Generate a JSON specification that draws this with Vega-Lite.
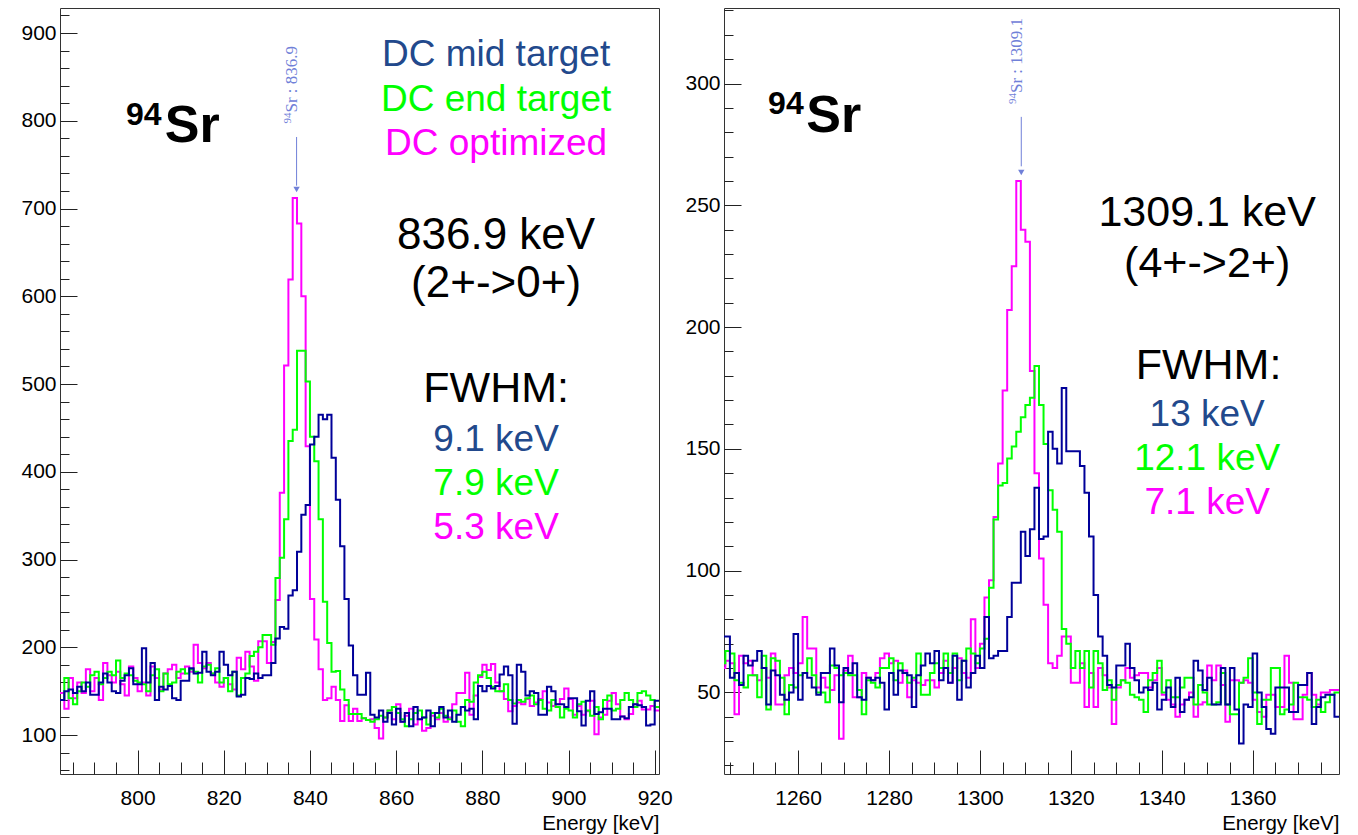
{
"$schema": "https://vega.github.io/schema/vega-lite/v6.json",
"padding": {"left": 20, "top": 7, "right": 20, "bottom": 1},
"background": "white",
"bounds": "flush",
"spacing": 65,
"resolve": {"scale": {"x": "independent", "y": "independent", "color": "independent"}},
"config": {
  "font": "Liberation Sans",
  "view": {"stroke": "#333333", "strokeWidth": 1},
  "axis": {"labelFont": "Liberation Sans", "labelFontSize": 21, "labelColor": "#000000", "titleFont": "Liberation Sans", "titleFontSize": 20.5, "titleFontWeight": "normal", "titleColor": "#000000", "domain": false, "grid": false, "tickColor": "#222222", "tickWidth": 1, "labelOverlap": false, "labelFlush": false, "labelBound": false}
},
"datasets": {
"L": [
{"e":782,"mid":140,"end":140,"opt":148},{"e":783,"mid":150,"end":165,"opt":130},{"e":784,"mid":152,"end":142,"opt":165},{"e":785,"mid":148,"end":135,"opt":142},{"e":786,"mid":155,"end":150,"opt":160},{"e":787,"mid":150,"end":160,"opt":148},{"e":788,"mid":160,"end":155,"opt":175},{"e":789,"mid":146,"end":168,"opt":150},{"e":790,"mid":146,"end":172,"opt":165},{"e":791,"mid":160,"end":158,"opt":140},
{"e":792,"mid":170,"end":165,"opt":182},{"e":793,"mid":160,"end":172,"opt":168},{"e":794,"mid":150,"end":168,"opt":160},{"e":795,"mid":148,"end":185,"opt":172},{"e":796,"mid":162,"end":165,"opt":158},{"e":797,"mid":168,"end":170,"opt":145},{"e":798,"mid":176,"end":168,"opt":178},{"e":799,"mid":158,"end":162,"opt":165},{"e":800,"mid":158,"end":160,"opt":150},{"e":801,"mid":199,"end":158,"opt":160},
{"e":802,"mid":160,"end":150,"opt":145},{"e":803,"mid":182,"end":168,"opt":178},{"e":804,"mid":140,"end":175,"opt":165},{"e":805,"mid":155,"end":150,"opt":152},{"e":806,"mid":152,"end":170,"opt":170},{"e":807,"mid":156,"end":158,"opt":175},{"e":808,"mid":142,"end":160,"opt":180},{"e":809,"mid":140,"end":172,"opt":165},{"e":810,"mid":162,"end":175,"opt":170},{"e":811,"mid":162,"end":170,"opt":178},
{"e":812,"mid":176,"end":175,"opt":172},{"e":813,"mid":170,"end":172,"opt":203},{"e":814,"mid":171,"end":160,"opt":182},{"e":815,"mid":195,"end":178,"opt":176},{"e":816,"mid":172,"end":180,"opt":182},{"e":817,"mid":168,"end":170,"opt":170},{"e":818,"mid":172,"end":176,"opt":160},{"e":819,"mid":195,"end":160,"opt":155},{"e":820,"mid":180,"end":165,"opt":165},{"e":821,"mid":168,"end":150,"opt":158},
{"e":822,"mid":172,"end":172,"opt":152},{"e":823,"mid":144,"end":145,"opt":188},{"e":824,"mid":146,"end":165,"opt":175},{"e":825,"mid":165,"end":170,"opt":195},{"e":826,"mid":164,"end":190,"opt":178},{"e":827,"mid":170,"end":195,"opt":162},{"e":828,"mid":165,"end":200,"opt":207},{"e":829,"mid":168,"end":214,"opt":207},{"e":830,"mid":168,"end":214,"opt":182},{"e":831,"mid":182,"end":203,"opt":206},
{"e":832,"mid":210,"end":279,"opt":254},{"e":833,"mid":223,"end":302,"opt":376},{"e":834,"mid":221,"end":346,"opt":521},{"e":835,"mid":259,"end":435,"opt":619},{"e":836,"mid":265,"end":448,"opt":712},{"e":837,"mid":309,"end":538,"opt":683},{"e":838,"mid":351,"end":538,"opt":600},{"e":839,"mid":362,"end":503,"opt":429},{"e":840,"mid":431,"end":440,"opt":255},{"e":841,"mid":440,"end":412,"opt":209},
{"e":842,"mid":465,"end":346,"opt":175},{"e":843,"mid":460,"end":252,"opt":140},{"e":844,"mid":465,"end":205,"opt":142},{"e":845,"mid":416,"end":172,"opt":155},{"e":846,"mid":368,"end":173,"opt":140},{"e":847,"mid":315,"end":152,"opt":116},{"e":848,"mid":255,"end":140,"opt":134},{"e":849,"mid":202,"end":124,"opt":116},{"e":850,"mid":168,"end":124,"opt":130},{"e":851,"mid":146,"end":124,"opt":116},
{"e":852,"mid":146,"end":119,"opt":119},{"e":853,"mid":171,"end":117,"opt":117},{"e":854,"mid":123,"end":115,"opt":118},{"e":855,"mid":120,"end":118,"opt":108},{"e":856,"mid":128,"end":122,"opt":96},{"e":857,"mid":115,"end":120,"opt":120},{"e":858,"mid":125,"end":128,"opt":128},{"e":859,"mid":112,"end":132,"opt":118},{"e":860,"mid":130,"end":125,"opt":135},{"e":861,"mid":115,"end":118,"opt":115},
{"e":862,"mid":125,"end":110,"opt":122},{"e":863,"mid":110,"end":118,"opt":130},{"e":864,"mid":132,"end":125,"opt":112},{"e":865,"mid":118,"end":128,"opt":118},{"e":866,"mid":120,"end":120,"opt":105},{"e":867,"mid":128,"end":112,"opt":108},{"e":868,"mid":110,"end":125,"opt":122},{"e":869,"mid":125,"end":120,"opt":118},{"e":870,"mid":132,"end":130,"opt":125},{"e":871,"mid":120,"end":122,"opt":115},
{"e":872,"mid":128,"end":118,"opt":120},{"e":873,"mid":115,"end":128,"opt":135},{"e":874,"mid":123,"end":115,"opt":148},{"e":875,"mid":132,"end":110,"opt":148},{"e":876,"mid":128,"end":140,"opt":171},{"e":877,"mid":130,"end":138,"opt":123},{"e":878,"mid":118,"end":160,"opt":145},{"e":879,"mid":156,"end":168,"opt":166},{"e":880,"mid":150,"end":172,"opt":180},{"e":881,"mid":156,"end":165,"opt":174},
{"e":882,"mid":153,"end":155,"opt":181},{"e":883,"mid":156,"end":150,"opt":160},{"e":884,"mid":169,"end":150,"opt":150},{"e":885,"mid":178,"end":158,"opt":141},{"e":886,"mid":168,"end":140,"opt":127},{"e":887,"mid":113,"end":136,"opt":133},{"e":888,"mid":180,"end":140,"opt":137},{"e":889,"mid":172,"end":138,"opt":135},{"e":890,"mid":145,"end":142,"opt":141},{"e":891,"mid":150,"end":145,"opt":133},
{"e":892,"mid":148,"end":135,"opt":137},{"e":893,"mid":123,"end":140,"opt":141},{"e":894,"mid":123,"end":130,"opt":150},{"e":895,"mid":155,"end":128,"opt":137},{"e":896,"mid":150,"end":140,"opt":133},{"e":897,"mid":135,"end":132,"opt":135},{"e":898,"mid":135,"end":120,"opt":141},{"e":899,"mid":132,"end":130,"opt":153},{"e":900,"mid":142,"end":128,"opt":141},{"e":901,"mid":142,"end":120,"opt":123},
{"e":902,"mid":127,"end":135,"opt":133},{"e":903,"mid":111,"end":138,"opt":123},{"e":904,"mid":139,"end":128,"opt":127},{"e":905,"mid":150,"end":122,"opt":139},{"e":906,"mid":124,"end":132,"opt":101},{"e":907,"mid":126,"end":118,"opt":120},{"e":908,"mid":130,"end":140,"opt":123},{"e":909,"mid":130,"end":145,"opt":139},{"e":910,"mid":118,"end":128,"opt":148},{"e":911,"mid":118,"end":130,"opt":135},
{"e":912,"mid":121,"end":140,"opt":121},{"e":913,"mid":119,"end":148,"opt":118},{"e":914,"mid":132,"end":140,"opt":124},{"e":915,"mid":135,"end":132,"opt":135},{"e":916,"mid":134,"end":148,"opt":139},{"e":917,"mid":132,"end":150,"opt":129},{"e":918,"mid":111,"end":145,"opt":129},{"e":919,"mid":112,"end":140,"opt":133},{"e":920,"mid":139,"end":132,"opt":128},{"e":921,"mid":139,"end":132,"opt":128}
],
"R": [
{"e":1243,"mid":73,"end":62,"opt":60},{"e":1244,"mid":73,"end":67,"opt":63},{"e":1245,"mid":56,"end":66,"opt":62},{"e":1246,"mid":58,"end":55,"opt":41},{"e":1247,"mid":53,"end":54,"opt":65},{"e":1248,"mid":65,"end":52,"opt":62},{"e":1249,"mid":61,"end":57,"opt":63},{"e":1250,"mid":63,"end":57,"opt":57},{"e":1251,"mid":67,"end":48,"opt":55},{"e":1252,"mid":60,"end":65,"opt":60},
{"e":1253,"mid":45,"end":43,"opt":56},{"e":1254,"mid":59,"end":64,"opt":66},{"e":1255,"mid":57,"end":63,"opt":45},{"e":1256,"mid":49,"end":56,"opt":45},{"e":1257,"mid":47,"end":41,"opt":57},{"e":1258,"mid":50,"end":53,"opt":60},{"e":1259,"mid":74,"end":52,"opt":58},{"e":1260,"mid":47,"end":57,"opt":62},{"e":1261,"mid":58,"end":58,"opt":81},{"e":1262,"mid":56,"end":64,"opt":68},
{"e":1263,"mid":52,"end":57,"opt":68},{"e":1264,"mid":49,"end":50,"opt":52},{"e":1265,"mid":58,"end":50,"opt":56},{"e":1266,"mid":58,"end":46,"opt":52},{"e":1267,"mid":68,"end":61,"opt":51},{"e":1268,"mid":61,"end":60,"opt":57},{"e":1269,"mid":46,"end":57,"opt":31},{"e":1270,"mid":60,"end":58,"opt":59},{"e":1271,"mid":58,"end":57,"opt":65},{"e":1272,"mid":62,"end":57,"opt":48},
{"e":1273,"mid":48,"end":51,"opt":48},{"e":1274,"mid":47,"end":41,"opt":58},{"e":1275,"mid":56,"end":55,"opt":56},{"e":1276,"mid":55,"end":54,"opt":55},{"e":1277,"mid":56,"end":52,"opt":58},{"e":1278,"mid":54,"end":60,"opt":64},{"e":1279,"mid":43,"end":60,"opt":66},{"e":1280,"mid":58,"end":64,"opt":62},{"e":1281,"mid":49,"end":55,"opt":63},{"e":1282,"mid":59,"end":62,"opt":54},
{"e":1283,"mid":58,"end":58,"opt":59},{"e":1284,"mid":57,"end":54,"opt":48},{"e":1285,"mid":44,"end":56,"opt":55},{"e":1286,"mid":57,"end":66,"opt":54},{"e":1287,"mid":61,"end":49,"opt":53},{"e":1288,"mid":66,"end":49,"opt":55},{"e":1289,"mid":62,"end":58,"opt":55},{"e":1290,"mid":67,"end":62,"opt":52},{"e":1291,"mid":55,"end":60,"opt":58},{"e":1292,"mid":60,"end":66,"opt":63},
{"e":1293,"mid":54,"end":58,"opt":54},{"e":1294,"mid":65,"end":66,"opt":60},{"e":1295,"mid":47,"end":55,"opt":64},{"e":1296,"mid":63,"end":63,"opt":58},{"e":1297,"mid":52,"end":68,"opt":56},{"e":1298,"mid":58,"end":66,"opt":80},{"e":1299,"mid":65,"end":62,"opt":60},{"e":1300,"mid":60,"end":68,"opt":70},{"e":1301,"mid":81,"end":72,"opt":89},{"e":1302,"mid":64,"end":93,"opt":96},
{"e":1303,"mid":65,"end":121,"opt":122},{"e":1304,"mid":67,"end":135,"opt":144},{"e":1305,"mid":67,"end":136,"opt":174},{"e":1306,"mid":81,"end":146,"opt":207},{"e":1307,"mid":95,"end":151,"opt":225},{"e":1308,"mid":95,"end":157,"opt":260},{"e":1309,"mid":116,"end":163,"opt":240},{"e":1310,"mid":106,"end":168,"opt":235},{"e":1311,"mid":117,"end":171,"opt":182},{"e":1312,"mid":134,"end":184,"opt":140},
{"e":1313,"mid":113,"end":168,"opt":105},{"e":1314,"mid":114,"end":152,"opt":86},{"e":1315,"mid":157,"end":133,"opt":62},{"e":1316,"mid":150,"end":125,"opt":60},{"e":1317,"mid":144,"end":116,"opt":65},{"e":1318,"mid":175,"end":76,"opt":73},{"e":1319,"mid":149,"end":70,"opt":73},{"e":1320,"mid":149,"end":60,"opt":54},{"e":1321,"mid":149,"end":67,"opt":54},{"e":1322,"mid":143,"end":60,"opt":62},
{"e":1323,"mid":132,"end":67,"opt":44},{"e":1324,"mid":114,"end":52,"opt":58},{"e":1325,"mid":90,"end":67,"opt":44},{"e":1326,"mid":73,"end":62,"opt":60},{"e":1327,"mid":65,"end":51,"opt":57},{"e":1328,"mid":53,"end":55,"opt":52},{"e":1329,"mid":52,"end":47,"opt":37},{"e":1330,"mid":61,"end":53,"opt":52},{"e":1331,"mid":61,"end":55,"opt":55},{"e":1332,"mid":70,"end":54,"opt":60},
{"e":1333,"mid":60,"end":49,"opt":56},{"e":1334,"mid":55,"end":48,"opt":57},{"e":1335,"mid":50,"end":47,"opt":58},{"e":1336,"mid":52,"end":42,"opt":58},{"e":1337,"mid":51,"end":55,"opt":52},{"e":1338,"mid":54,"end":58,"opt":55},{"e":1339,"mid":43,"end":63,"opt":60},{"e":1340,"mid":47,"end":50,"opt":49},{"e":1341,"mid":52,"end":55,"opt":47},{"e":1342,"mid":44,"end":48,"opt":45},
{"e":1343,"mid":56,"end":48,"opt":40},{"e":1344,"mid":42,"end":52,"opt":45},{"e":1345,"mid":47,"end":56,"opt":47},{"e":1346,"mid":48,"end":56,"opt":50},{"e":1347,"mid":63,"end":45,"opt":40},{"e":1348,"mid":59,"end":53,"opt":45},{"e":1349,"mid":51,"end":50,"opt":46},{"e":1350,"mid":56,"end":45,"opt":61},{"e":1351,"mid":45,"end":45,"opt":55},{"e":1352,"mid":45,"end":46,"opt":61},
{"e":1353,"mid":60,"end":58,"opt":53},{"e":1354,"mid":45,"end":45,"opt":38},{"e":1355,"mid":60,"end":41,"opt":55},{"e":1356,"mid":43,"end":41,"opt":55},{"e":1357,"mid":29,"end":54,"opt":54},{"e":1358,"mid":45,"end":56,"opt":55},{"e":1359,"mid":44,"end":64,"opt":54},{"e":1360,"mid":66,"end":50,"opt":47},{"e":1361,"mid":50,"end":37,"opt":42},{"e":1362,"mid":44,"end":47,"opt":40},
{"e":1363,"mid":35,"end":47,"opt":49},{"e":1364,"mid":33,"end":60,"opt":49},{"e":1365,"mid":52,"end":60,"opt":44},{"e":1366,"mid":52,"end":41,"opt":44},{"e":1367,"mid":52,"end":43,"opt":65},{"e":1368,"mid":42,"end":45,"opt":54},{"e":1369,"mid":42,"end":54,"opt":39},{"e":1370,"mid":53,"end":48,"opt":39},{"e":1371,"mid":53,"end":48,"opt":49},{"e":1372,"mid":58,"end":47,"opt":58},
{"e":1373,"mid":37,"end":44,"opt":49},{"e":1374,"mid":44,"end":47,"opt":45},{"e":1375,"mid":48,"end":42,"opt":50},{"e":1376,"mid":49,"end":46,"opt":50},{"e":1377,"mid":49,"end":49,"opt":51},{"e":1378,"mid":40,"end":50,"opt":51},{"e":1379,"mid":40,"end":50,"opt":51}
],
"LA": [
{"x":883.2,"y":862.4,"t":"DC mid target","k":"m","c":"mid"},
{"x":883.2,"y":811.1,"t":"DC end target","k":"m","c":"end"},
{"x":883.2,"y":761.0,"t":"DC optimized","k":"m","c":"opt"},
{"x":883.2,"y":654.2,"t":"836.9 keV","k":"big","c":"blk"},
{"x":883.2,"y":599.5,"t":"(2+->0+)","k":"big","c":"blk"},
{"x":883.2,"y":480,"t":"FWHM:","k":"fw","c":"blk"},
{"x":883.2,"y":423.6,"t":"9.1 keV","k":"m","c":"mid"},
{"x":883.2,"y":373,"t":"7.9 keV","k":"m","c":"end"},
{"x":883.2,"y":323.4,"t":"5.3 keV","k":"m","c":"opt"},
{"x":797.3,"y":795.6,"t":"94","k":"sup","c":"blk"},
{"x":806.3,"y":775.8,"t":"Sr","k":"el","c":"blk"},
{"x":835.7,"y":796.9,"t":"94","k":"asup","c":"arr"},
{"x":837.1,"y":809.4,"t":"Sr : 836.9","k":"atxt","c":"arr"}
],
"RA": [
{"x":1350,"y":241.4,"t":"1309.1 keV","k":"big","c":"blk"},
{"x":1350,"y":220.6,"t":"(4+->2+)","k":"big","c":"blk"},
{"x":1350.3,"y":178.7,"t":"FWHM:","k":"fw","c":"blk"},
{"x":1350,"y":159.4,"t":"13 keV","k":"m","c":"mid"},
{"x":1350,"y":141.4,"t":"12.1 keV","k":"m","c":"end"},
{"x":1350,"y":123.3,"t":"7.1 keV","k":"m","c":"opt"},
{"x":1253.4,"y":287.3,"t":"94","k":"sup","c":"blk"},
{"x":1261.8,"y":280.1,"t":"Sr","k":"el","c":"blk"},
{"x":1307.9,"y":291.6,"t":"94","k":"asup","c":"arr"},
{"x":1309.2,"y":296.1,"t":"Sr : 1309.1","k":"atxt","c":"arr"}
],
"LR": [{"x":836.9,"y":781.5,"y2":726,"yh":721.7}],
"RR": [{"x":1309.1,"y":286.3,"y2":266,"yh":263.5}]
},
"hconcat": [
{
"width": 599, "height": 766,
"resolve": {"axis": {"x": "independent", "y": "independent"}},
"layer": [
{"data": {"name": "L"}, "mark": {"type": "line", "interpolate": "step-after", "strokeWidth": 2, "color": "#ff00ff", "clip": true},
 "encoding": {
  "x": {"field": "e", "type": "quantitative", "scale": {"domain": [782, 921], "nice": false, "zero": false},
        "axis": {"orient": "bottom", "values": [800,820,840,860,880,900,920], "format": "d",
                 "tickSize": -24, "labelPadding": 37,
                 "title": "Energy [keV]", "titleAnchor": "end", "titleAlign": "right", "titleX": 599, "titleY": 55, "titleBaseline": "alphabetic"}},
  "y": {"field": "opt", "type": "quantitative", "scale": {"domain": [55.6, 928.5], "nice": false, "zero": false},
        "axis": {"orient": "left", "values": [100,200,300,400,500,600,700,800,900], "format": "d",
                 "tickSize": -17, "labelPadding": 21, "title": null}}
 }},
{"data": {"name": "L"}, "mark": {"type": "line", "interpolate": "step-after", "strokeWidth": 2, "color": "#00ff00", "clip": true},
 "encoding": {
  "x": {"field": "e", "type": "quantitative", "scale": {"domain": [782, 921], "nice": false, "zero": false},
        "axis": {"orient": "bottom", "values": [785,790,795,805,810,815,825,830,835,845,850,855,865,870,875,885,890,895,905,910,915], "labels": false, "tickSize": -12, "title": null}},
  "y": {"field": "end", "type": "quantitative", "scale": {"domain": [55.6, 928.5], "nice": false, "zero": false},
        "axis": {"orient": "left", "values": [60,80,120,140,160,180,220,240,260,280,320,340,360,380,420,440,460,480,520,540,560,580,620,640,660,680,720,740,760,780,820,840,860,880,920], "labels": false, "tickSize": -9, "title": null}}}},
{"data": {"name": "L"}, "mark": {"type": "line", "interpolate": "step-after", "strokeWidth": 2, "color": "#000099", "clip": true},
 "encoding": {
  "x": {"field": "e", "type": "quantitative", "scale": {"domain": [782, 921], "nice": false, "zero": false}, "axis": null},
  "y": {"field": "mid", "type": "quantitative", "scale": {"domain": [55.6, 928.5], "nice": false, "zero": false}, "axis": null}}},
{"data": {"name": "LR"}, "mark": {"type": "rule", "color": "#7080d8", "strokeWidth": 1},
 "encoding": {
  "x": {"field": "x", "type": "quantitative", "scale": {"domain": [782, 921], "nice": false, "zero": false}, "axis": null},
  "y": {"field": "y", "type": "quantitative", "scale": {"domain": [55.6, 928.5], "nice": false, "zero": false}, "axis": null},
  "y2": {"field": "y2"}}},
{"data": {"name": "LR"}, "mark": {"type": "point", "shape": "triangle-down", "filled": true, "size": 40, "color": "#7080d8", "opacity": 1},
 "encoding": {
  "x": {"field": "x", "type": "quantitative", "scale": {"domain": [782, 921], "nice": false, "zero": false}, "axis": null},
  "y": {"field": "yh", "type": "quantitative", "scale": {"domain": [55.6, 928.5], "nice": false, "zero": false}, "axis": null}}},
{"data": {"name": "LA"}, "transform": [{"filter": "datum.k === 'm'"}], "mark": {"type": "text", "fontSize": 37, "align": "center", "baseline": "alphabetic", "font": "Liberation Sans"},
 "encoding": {
  "x": {"field": "x", "type": "quantitative", "scale": {"domain": [782, 921], "nice": false, "zero": false}, "axis": null},
  "y": {"field": "y", "type": "quantitative", "scale": {"domain": [55.6, 928.5], "nice": false, "zero": false}, "axis": null},
  "text": {"field": "t"},
  "color": {"field": "c", "type": "nominal", "scale": {"domain": ["mid","end","opt","blk","arr"], "range": ["#22498c","#00ff00","#ff00ff","#000000","#7080d8"]}, "legend": null}}},
{"data": {"name": "LA"}, "transform": [{"filter": "datum.k === 'big'"}], "mark": {"type": "text", "fontSize": 44, "align": "center", "baseline": "alphabetic", "font": "Liberation Sans"},
 "encoding": {
  "x": {"field": "x", "type": "quantitative", "scale": {"domain": [782, 921], "nice": false, "zero": false}, "axis": null},
  "y": {"field": "y", "type": "quantitative", "scale": {"domain": [55.6, 928.5], "nice": false, "zero": false}, "axis": null},
  "text": {"field": "t"},
  "color": {"field": "c", "type": "nominal", "scale": {"domain": ["mid","end","opt","blk","arr"], "range": ["#22498c","#00ff00","#ff00ff","#000000","#7080d8"]}, "legend": null}}},
{"data": {"name": "LA"}, "transform": [{"filter": "datum.k === 'fw'"}], "mark": {"type": "text", "fontSize": 43, "align": "center", "baseline": "alphabetic", "font": "Liberation Sans"},
 "encoding": {
  "x": {"field": "x", "type": "quantitative", "scale": {"domain": [782, 921], "nice": false, "zero": false}, "axis": null},
  "y": {"field": "y", "type": "quantitative", "scale": {"domain": [55.6, 928.5], "nice": false, "zero": false}, "axis": null},
  "text": {"field": "t"},
  "color": {"field": "c", "type": "nominal", "scale": {"domain": ["mid","end","opt","blk","arr"], "range": ["#22498c","#00ff00","#ff00ff","#000000","#7080d8"]}, "legend": null}}},
{"data": {"name": "LA"}, "transform": [{"filter": "datum.k === 'sup'"}], "mark": {"type": "text", "fontSize": 32, "fontWeight": "bold", "align": "left", "baseline": "alphabetic", "font": "Liberation Sans"},
 "encoding": {
  "x": {"field": "x", "type": "quantitative", "scale": {"domain": [782, 921], "nice": false, "zero": false}, "axis": null},
  "y": {"field": "y", "type": "quantitative", "scale": {"domain": [55.6, 928.5], "nice": false, "zero": false}, "axis": null},
  "text": {"field": "t"},
  "color": {"field": "c", "type": "nominal", "scale": {"domain": ["mid","end","opt","blk","arr"], "range": ["#22498c","#00ff00","#ff00ff","#000000","#7080d8"]}, "legend": null}}},
{"data": {"name": "LA"}, "transform": [{"filter": "datum.k === 'el'"}], "mark": {"type": "text", "fontSize": 52, "fontWeight": "bold", "align": "left", "baseline": "alphabetic", "font": "Liberation Sans"},
 "encoding": {
  "x": {"field": "x", "type": "quantitative", "scale": {"domain": [782, 921], "nice": false, "zero": false}, "axis": null},
  "y": {"field": "y", "type": "quantitative", "scale": {"domain": [55.6, 928.5], "nice": false, "zero": false}, "axis": null},
  "text": {"field": "t"},
  "color": {"field": "c", "type": "nominal", "scale": {"domain": ["mid","end","opt","blk","arr"], "range": ["#22498c","#00ff00","#ff00ff","#000000","#7080d8"]}, "legend": null}}},
{"data": {"name": "LA"}, "transform": [{"filter": "datum.k === 'asup'"}], "mark": {"type": "text", "fontSize": 11, "angle": 270, "align": "left", "baseline": "alphabetic", "font": "Liberation Serif"},
 "encoding": {
  "x": {"field": "x", "type": "quantitative", "scale": {"domain": [782, 921], "nice": false, "zero": false}, "axis": null},
  "y": {"field": "y", "type": "quantitative", "scale": {"domain": [55.6, 928.5], "nice": false, "zero": false}, "axis": null},
  "text": {"field": "t"},
  "color": {"field": "c", "type": "nominal", "scale": {"domain": ["mid","end","opt","blk","arr"], "range": ["#22498c","#00ff00","#ff00ff","#000000","#7080d8"]}, "legend": null}}},
{"data": {"name": "LA"}, "transform": [{"filter": "datum.k === 'atxt'"}], "mark": {"type": "text", "fontSize": 17, "angle": 270, "align": "left", "baseline": "alphabetic", "font": "Liberation Serif"},
 "encoding": {
  "x": {"field": "x", "type": "quantitative", "scale": {"domain": [782, 921], "nice": false, "zero": false}, "axis": null},
  "y": {"field": "y", "type": "quantitative", "scale": {"domain": [55.6, 928.5], "nice": false, "zero": false}, "axis": null},
  "text": {"field": "t"},
  "color": {"field": "c", "type": "nominal", "scale": {"domain": ["mid","end","opt","blk","arr"], "range": ["#22498c","#00ff00","#ff00ff","#000000","#7080d8"]}, "legend": null}}}
]
},
{
"width": 615, "height": 766,
"resolve": {"axis": {"x": "independent", "y": "independent"}},
"layer": [
{"data": {"name": "R"}, "mark": {"type": "line", "interpolate": "step-after", "strokeWidth": 2, "color": "#ff00ff", "clip": true},
 "encoding": {
  "x": {"field": "e", "type": "quantitative", "scale": {"domain": [1243.7, 1379], "nice": false, "zero": false},
        "axis": {"orient": "bottom", "values": [1260,1280,1300,1320,1340,1360], "format": "d",
                 "tickSize": -24, "labelPadding": 37,
                 "title": "Energy [keV]", "titleAnchor": "end", "titleAlign": "right", "titleX": 615, "titleY": 55, "titleBaseline": "alphabetic"}},
  "y": {"field": "opt", "type": "quantitative", "scale": {"domain": [16.5, 331], "nice": false, "zero": false},
        "axis": {"orient": "left", "values": [50,100,150,200,250,300], "format": "d",
                 "tickSize": -17, "labelPadding": 21, "title": null}}
 }},
{"data": {"name": "R"}, "mark": {"type": "line", "interpolate": "step-after", "strokeWidth": 2, "color": "#00ff00", "clip": true},
 "encoding": {
  "x": {"field": "e", "type": "quantitative", "scale": {"domain": [1243.7, 1379], "nice": false, "zero": false},
        "axis": {"orient": "bottom", "values": [1245,1250,1255,1265,1270,1275,1285,1290,1295,1305,1310,1315,1325,1330,1335,1345,1350,1355,1365,1370,1375], "labels": false, "tickSize": -12, "title": null}},
  "y": {"field": "end", "type": "quantitative", "scale": {"domain": [16.5, 331], "nice": false, "zero": false},
        "axis": {"orient": "left", "values": [20,30,40,60,70,80,90,110,120,130,140,160,170,180,190,210,220,230,240,260,270,280,290,310,320,330], "labels": false, "tickSize": -9, "title": null}}}},
{"data": {"name": "R"}, "mark": {"type": "line", "interpolate": "step-after", "strokeWidth": 2, "color": "#000099", "clip": true},
 "encoding": {
  "x": {"field": "e", "type": "quantitative", "scale": {"domain": [1243.7, 1379], "nice": false, "zero": false}, "axis": null},
  "y": {"field": "mid", "type": "quantitative", "scale": {"domain": [16.5, 331], "nice": false, "zero": false}, "axis": null}}},
{"data": {"name": "RR"}, "mark": {"type": "rule", "color": "#7080d8", "strokeWidth": 1},
 "encoding": {
  "x": {"field": "x", "type": "quantitative", "scale": {"domain": [1243.7, 1379], "nice": false, "zero": false}, "axis": null},
  "y": {"field": "y", "type": "quantitative", "scale": {"domain": [16.5, 331], "nice": false, "zero": false}, "axis": null},
  "y2": {"field": "y2"}}},
{"data": {"name": "RR"}, "mark": {"type": "point", "shape": "triangle-down", "filled": true, "size": 40, "color": "#7080d8", "opacity": 1},
 "encoding": {
  "x": {"field": "x", "type": "quantitative", "scale": {"domain": [1243.7, 1379], "nice": false, "zero": false}, "axis": null},
  "y": {"field": "yh", "type": "quantitative", "scale": {"domain": [16.5, 331], "nice": false, "zero": false}, "axis": null}}},
{"data": {"name": "RA"}, "transform": [{"filter": "datum.k === 'm'"}], "mark": {"type": "text", "fontSize": 37, "align": "center", "baseline": "alphabetic", "font": "Liberation Sans"},
 "encoding": {
  "x": {"field": "x", "type": "quantitative", "scale": {"domain": [1243.7, 1379], "nice": false, "zero": false}, "axis": null},
  "y": {"field": "y", "type": "quantitative", "scale": {"domain": [16.5, 331], "nice": false, "zero": false}, "axis": null},
  "text": {"field": "t"},
  "color": {"field": "c", "type": "nominal", "scale": {"domain": ["mid","end","opt","blk","arr"], "range": ["#22498c","#00ff00","#ff00ff","#000000","#7080d8"]}, "legend": null}}},
{"data": {"name": "RA"}, "transform": [{"filter": "datum.k === 'big'"}], "mark": {"type": "text", "fontSize": 43, "align": "center", "baseline": "alphabetic", "font": "Liberation Sans"},
 "encoding": {
  "x": {"field": "x", "type": "quantitative", "scale": {"domain": [1243.7, 1379], "nice": false, "zero": false}, "axis": null},
  "y": {"field": "y", "type": "quantitative", "scale": {"domain": [16.5, 331], "nice": false, "zero": false}, "axis": null},
  "text": {"field": "t"},
  "color": {"field": "c", "type": "nominal", "scale": {"domain": ["mid","end","opt","blk","arr"], "range": ["#22498c","#00ff00","#ff00ff","#000000","#7080d8"]}, "legend": null}}},
{"data": {"name": "RA"}, "transform": [{"filter": "datum.k === 'fw'"}], "mark": {"type": "text", "fontSize": 43, "align": "center", "baseline": "alphabetic", "font": "Liberation Sans"},
 "encoding": {
  "x": {"field": "x", "type": "quantitative", "scale": {"domain": [1243.7, 1379], "nice": false, "zero": false}, "axis": null},
  "y": {"field": "y", "type": "quantitative", "scale": {"domain": [16.5, 331], "nice": false, "zero": false}, "axis": null},
  "text": {"field": "t"},
  "color": {"field": "c", "type": "nominal", "scale": {"domain": ["mid","end","opt","blk","arr"], "range": ["#22498c","#00ff00","#ff00ff","#000000","#7080d8"]}, "legend": null}}},
{"data": {"name": "RA"}, "transform": [{"filter": "datum.k === 'sup'"}], "mark": {"type": "text", "fontSize": 32, "fontWeight": "bold", "align": "left", "baseline": "alphabetic", "font": "Liberation Sans"},
 "encoding": {
  "x": {"field": "x", "type": "quantitative", "scale": {"domain": [1243.7, 1379], "nice": false, "zero": false}, "axis": null},
  "y": {"field": "y", "type": "quantitative", "scale": {"domain": [16.5, 331], "nice": false, "zero": false}, "axis": null},
  "text": {"field": "t"},
  "color": {"field": "c", "type": "nominal", "scale": {"domain": ["mid","end","opt","blk","arr"], "range": ["#22498c","#00ff00","#ff00ff","#000000","#7080d8"]}, "legend": null}}},
{"data": {"name": "RA"}, "transform": [{"filter": "datum.k === 'el'"}], "mark": {"type": "text", "fontSize": 52, "fontWeight": "bold", "align": "left", "baseline": "alphabetic", "font": "Liberation Sans"},
 "encoding": {
  "x": {"field": "x", "type": "quantitative", "scale": {"domain": [1243.7, 1379], "nice": false, "zero": false}, "axis": null},
  "y": {"field": "y", "type": "quantitative", "scale": {"domain": [16.5, 331], "nice": false, "zero": false}, "axis": null},
  "text": {"field": "t"},
  "color": {"field": "c", "type": "nominal", "scale": {"domain": ["mid","end","opt","blk","arr"], "range": ["#22498c","#00ff00","#ff00ff","#000000","#7080d8"]}, "legend": null}}},
{"data": {"name": "RA"}, "transform": [{"filter": "datum.k === 'asup'"}], "mark": {"type": "text", "fontSize": 11, "angle": 270, "align": "left", "baseline": "alphabetic", "font": "Liberation Serif"},
 "encoding": {
  "x": {"field": "x", "type": "quantitative", "scale": {"domain": [1243.7, 1379], "nice": false, "zero": false}, "axis": null},
  "y": {"field": "y", "type": "quantitative", "scale": {"domain": [16.5, 331], "nice": false, "zero": false}, "axis": null},
  "text": {"field": "t"},
  "color": {"field": "c", "type": "nominal", "scale": {"domain": ["mid","end","opt","blk","arr"], "range": ["#22498c","#00ff00","#ff00ff","#000000","#7080d8"]}, "legend": null}}},
{"data": {"name": "RA"}, "transform": [{"filter": "datum.k === 'atxt'"}], "mark": {"type": "text", "fontSize": 17, "angle": 270, "align": "left", "baseline": "alphabetic", "font": "Liberation Serif"},
 "encoding": {
  "x": {"field": "x", "type": "quantitative", "scale": {"domain": [1243.7, 1379], "nice": false, "zero": false}, "axis": null},
  "y": {"field": "y", "type": "quantitative", "scale": {"domain": [16.5, 331], "nice": false, "zero": false}, "axis": null},
  "text": {"field": "t"},
  "color": {"field": "c", "type": "nominal", "scale": {"domain": ["mid","end","opt","blk","arr"], "range": ["#22498c","#00ff00","#ff00ff","#000000","#7080d8"]}, "legend": null}}}
]
}
]
}
